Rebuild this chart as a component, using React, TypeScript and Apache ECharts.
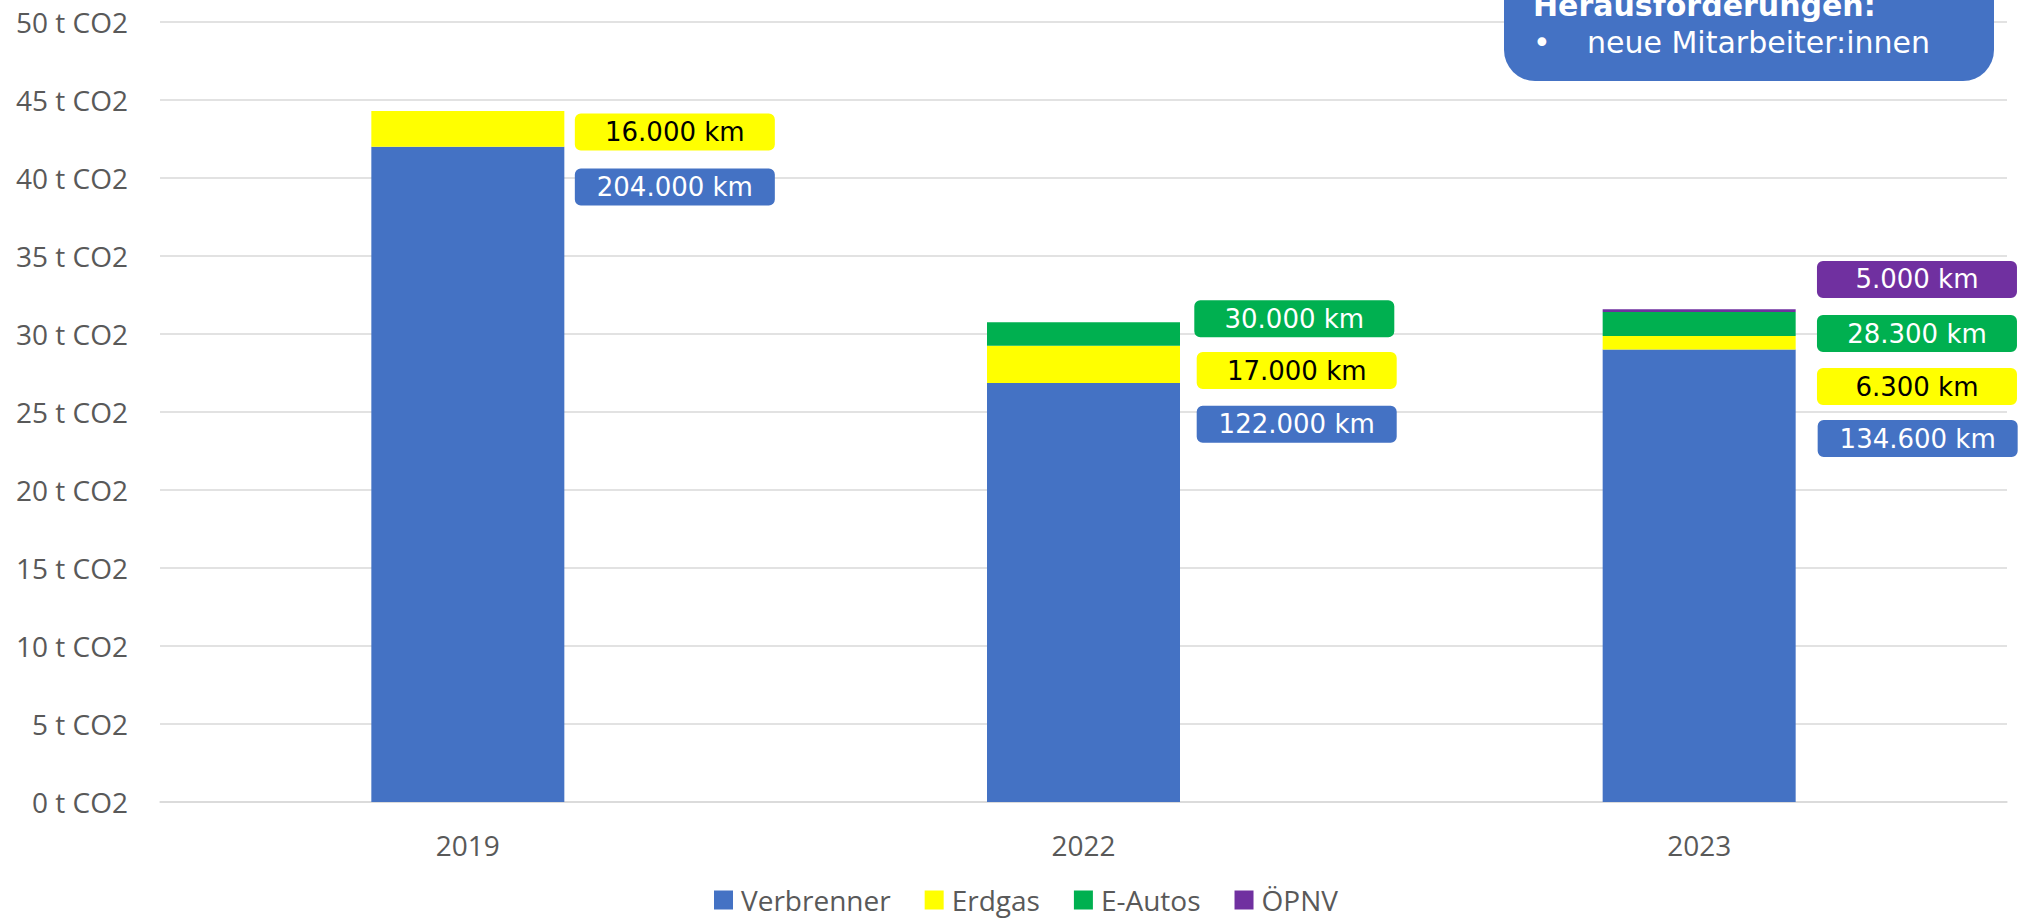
import React, { useEffect, useRef } from "react";
import * as echarts from "echarts";

const years = ["2019", "2022", "2023"];
const seriesNames = ["Verbrenner", "Erdgas", "E-Autos", "ÖPNV"];
const verbrenner = [42.0, 26.86, 29.0];
const erdgas = [2.3, 2.39, 0.87];
const eAutos = [0, 1.5, 1.54];
const oepnv = [0, 0, 0.17];
const kmVerbrenner = ["204.000 km", "122.000 km", "134.600 km"];
const kmErdgas = ["16.000 km", "17.000 km", "6.300 km"];
const kmEAutos = ["", "30.000 km", "28.300 km"];
const kmOepnv = ["", "", "5.000 km"];
const yTicks = [0, 50, 5];
const boxTitle = "Herausforderungen:";
const boxItem = "neue Mitarbeiter:innen";

const colors = ["#4472C4", "#FFFF00", "#00B050", "#7030A0"];
const labelTextColors = ["#FFFFFF", "#000000", "#FFFFFF", "#FFFFFF"];

// label offsets (layout only) relative to the right edge / center of each segment
const labelOffsets: number[][][] = [
  [[110.5, -287.4], [116.7, -168.3], [122, -137.3]],
  [[110.5, 3.1], [116.7, 6.2], [121.3, 43.7]],
  [[0, 0], [114.3, -15.2], [121.3, 9.5]],
  [[0, 0], [0, 0], [121.3, -31.2]],
];

export default function App() {
  const ref = useRef<HTMLDivElement>(null);
  useEffect(() => {
    if (!ref.current) return;
    const chart = echarts.init(ref.current, undefined, { renderer: "svg" });
    const values = [verbrenner, erdgas, eAutos, oepnv];
    const kms = [kmVerbrenner, kmErdgas, kmEAutos, kmOepnv];
    const series = seriesNames.map((name, si) => ({
      name,
      type: "bar",
      stack: "total",
      barWidth: 193,
      itemStyle: { color: colors[si] },
      data: values[si].map((v, di) => ({
        value: v,
        label: kms[si][di]
          ? {
              show: true,
              position: "right",
              distance: 0,
              offset: labelOffsets[si][di],
              formatter: kms[si][di],
              backgroundColor: colors[si],
              borderRadius: 6,
              width: 200,
              height: 37,
              lineHeight: 37,
              padding: 0,
              align: "center",
              verticalAlign: "middle",
              color: labelTextColors[si],
              fontFamily: "DejaVu Sans",
              fontSize: 26,
            }
          : { show: false },
      })),
    }));
    chart.setOption({
      animation: false,
      grid: { left: 160, right: 17, top: 22, bottom: 121, containLabel: false },
      legend: {
        data: seriesNames,
        bottom: 4,
        left: 709,
        icon: "rect",
        itemWidth: 19,
        itemHeight: 19,
        itemGap: 34,
        textStyle: {
          fontFamily: "Open Sans",
          fontSize: 28,
          color: "#595959",
          padding: [0, 0, 0, 3],
        },
      },
      xAxis: {
        type: "category",
        data: years,
        axisLine: { lineStyle: { color: "#D9D9D9", width: 1.5 } },
        axisTick: { show: false },
        axisLabel: { color: "#595959", fontFamily: "Open Sans", fontSize: 28, margin: 29 },
      },
      yAxis: {
        type: "value",
        min: yTicks[0],
        max: yTicks[1],
        interval: yTicks[2],
        axisLine: { show: false },
        axisTick: { show: false },
        splitLine: { lineStyle: { color: "#D9D9D9", width: 1.5 } },
        axisLabel: {
          formatter: "{value} t CO2",
          color: "#595959",
          fontFamily: "Open Sans",
          fontSize: 28,
          margin: 32,
        },
      },
      series,
      graphic: [
        {
          type: "rect",
          z: 100,
          zlevel: 1,
          shape: { x: 1504, y: -60, width: 490, height: 141, r: 31 },
          style: { fill: "#4472C4" },
        },
        {
          type: "text",
          z: 101,
          zlevel: 1,
          x: 1533,
          y: 5,
          style: {
            text: boxTitle,
            fill: "#FFFFFF",
            font: "bold 30px 'DejaVu Sans'",
            verticalAlign: "middle",
          },
        },
        {
          type: "text",
          z: 101,
          zlevel: 1,
          x: 1533,
          y: 42,
          style: {
            text: "•",
            fill: "#FFFFFF",
            font: "30px 'DejaVu Sans'",
            verticalAlign: "middle",
          },
        },
        {
          type: "text",
          z: 101,
          zlevel: 1,
          x: 1587,
          y: 42,
          style: {
            text: boxItem,
            fill: "#FFFFFF",
            font: "30px 'DejaVu Sans'",
            verticalAlign: "middle",
          },
        },
      ],
    });
    return () => chart.dispose();
  }, []);
  return (
    <div
      ref={ref}
      style={{ position: "fixed", left: 0, top: 0, width: 2024, height: 923, background: "#fff" }}
    />
  );
}
